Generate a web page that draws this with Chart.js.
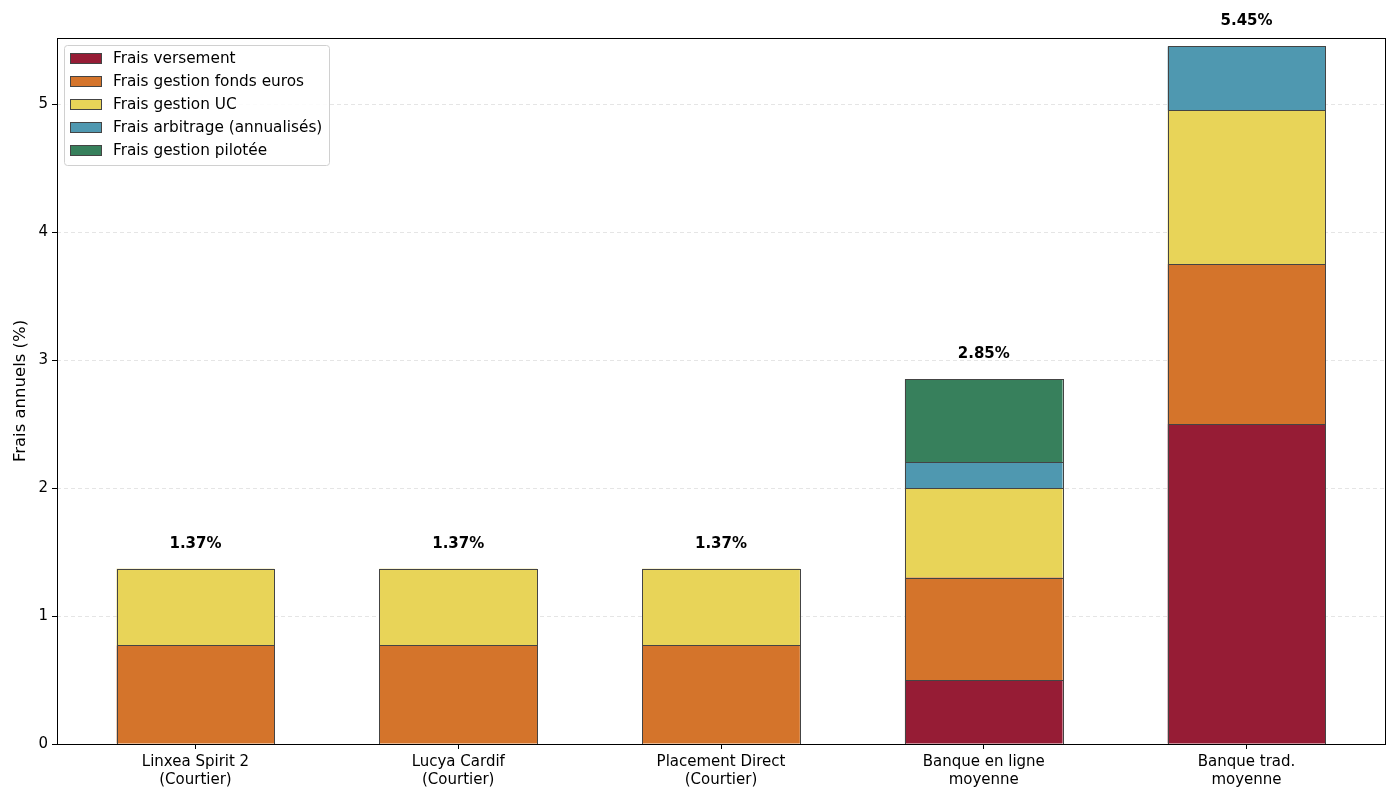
<!DOCTYPE html>
<html>
<head>
<meta charset="utf-8">
<script src="https://cdn.jsdelivr.net/npm/chart.js@4"></script>
<style>
  html, body { margin: 0; padding: 0; background: #fff; }
</style>
</head>
<body>
<canvas id="chart" width="1400" height="800"></canvas>
<script>
const categories = [
    ['Linxea Spirit 2', '(Courtier)'],
    ['Lucya Cardif', '(Courtier)'],
    ['Placement Direct', '(Courtier)'],
    ['Banque en ligne', 'moyenne'],
    ['Banque trad.', 'moyenne']
];
const seriesNames = ['Frais versement', 'Frais gestion fonds euros', 'Frais gestion UC',
                     'Frais arbitrage (annualisés)', 'Frais gestion pilotée'];
const fraisVersement = [0, 0, 0, 0.5, 2.5];
const fraisFondsEuros = [0.77, 0.77, 0.77, 0.8, 1.25];
const fraisUC = [0.6, 0.6, 0.6, 0.7, 1.2];
const fraisArbitrage = [0, 0, 0, 0.2, 0.5];
const fraisPilotee = [0, 0, 0, 0.65, 0];
const yTicks = [0, 1, 2, 3, 4, 5];

const colors = ['#961c35', '#d4742b', '#e8d458', '#4f98b0', '#37805c'];
const allSeries = [fraisVersement, fraisFondsEuros, fraisUC, fraisArbitrage, fraisPilotee];
const totals = categories.map((c, i) => allSeries.reduce((s, arr) => s + arr[i], 0));

const FONT = '"DejaVu Sans", sans-serif';

// crisp dark outlines on each bar segment, like matplotlib edgecolor
const outlines = {
    id: 'outlines',
    afterDatasetsDraw: chart => {
        const ctx = chart.ctx;
        ctx.save();
        ctx.strokeStyle = '#444';
        ctx.lineWidth = 1;
        chart.data.datasets.forEach((ds, k) => {
            chart.getDatasetMeta(k).data.forEach(bar => {
                const p = bar.getProps(['x', 'y', 'base', 'width'], true);
                const l = Math.round(p.x - p.width / 2) + 0.5;
                const r = Math.round(p.x + p.width / 2) + 0.5;
                const t = Math.round(Math.min(p.y, p.base)) + 0.5;
                const b = Math.round(Math.max(p.y, p.base)) + 0.5;
                ctx.strokeRect(l, t, r - l, b - t);
            });
        });
        ctx.restore();
    }
};

const frame = {
    id: 'frame',
    afterDraw: chart => {
        const ctx = chart.ctx;
        const a = chart.chartArea;
        const xs = chart.scales.x, ys = chart.scales.y;
        ctx.save();
        // plot box
        ctx.strokeStyle = '#000';
        ctx.lineWidth = 1;
        ctx.strokeRect(Math.round(a.left) + 0.5, Math.round(a.top) + 0.5,
                       Math.round(a.right - a.left), Math.round(a.bottom - a.top));
        // totals
        ctx.fillStyle = '#000';
        ctx.font = 'bold 15px ' + FONT;
        ctx.textAlign = 'center';
        ctx.textBaseline = 'middle';
        totals.forEach((t, i) => {
            ctx.fillText(t.toFixed(2) + '%', xs.getPixelForValue(i), ys.getPixelForValue(t) - 25);
        });
        // legend
        const lx = 64, ly = 45, lw = 265, lh = 120;
        ctx.fillStyle = 'rgba(255,255,255,0.85)';
        ctx.strokeStyle = '#d0d0d0';
        ctx.beginPath();
        ctx.roundRect(lx + 0.5, ly + 0.5, lw, lh, 3);
        ctx.fill();
        ctx.stroke();
        ctx.font = '15.3px ' + FONT;
        ctx.textAlign = 'left';
        seriesNames.forEach((name, i) => {
            const y = 58 + i * 23;
            ctx.fillStyle = colors[i];
            ctx.fillRect(70, y - 5, 31, 10);
            ctx.strokeStyle = '#444';
            ctx.strokeRect(70.5, y - 4.5, 31, 10);
            ctx.fillStyle = '#000';
            ctx.fillText(name, 113, y + 1);
        });
        ctx.restore();
    }
};

new Chart(document.getElementById('chart').getContext('2d'), {
    type: 'bar',
    plugins: [outlines, frame],
    data: {
        datasets: allSeries.map((arr, k) => ({
            label: seriesNames[k],
            data: arr.map((v, i) => ({ x: i, y: v })),
            backgroundColor: colors[k],
            borderWidth: 0,
            inflateAmount: 0,
            barPercentage: 0.6,
            categoryPercentage: 1.0
        }))
    },
    options: {
        responsive: false,
        animation: false,
        devicePixelRatio: 1,
        layout: { padding: { left: 11, top: 38, right: 15, bottom: 0 } },
        plugins: {
            legend: { display: false },
            tooltip: { enabled: false }
        },
        scales: {
            x: {
                type: 'linear',
                stacked: true,
                offset: false,
                min: -0.527,
                max: 4.527,
                afterBuildTicks: s => { s.ticks = categories.map((c, i) => ({ value: i })); },
                afterFit: s => { s.height = 56; },
                grid: { offset: false, drawOnChartArea: false, tickColor: '#000', tickLength: 5 },
                border: { display: false },
                ticks: {
                    color: '#000',
                    font: { family: FONT, size: 15 },
                    padding: 4,
                    maxRotation: 0,
                    callback: v => categories[v]
                }
            },
            y: {
                stacked: true,
                min: 0,
                max: 5.516,
                afterBuildTicks: s => { s.ticks = yTicks.map(v => ({ value: v })); },
                afterFit: s => { s.width = 46; },
                grid: { color: 'rgba(0,0,0,0.1)', tickColor: '#000', tickLength: 5 },
                border: { display: false, dash: [4, 3] },
                ticks: {
                    color: '#000',
                    font: { family: FONT, size: 15 },
                    padding: 4
                },
                title: {
                    display: true,
                    text: 'Frais annuels (%)',
                    color: '#000',
                    font: { family: FONT, size: 16.5 },
                    padding: { top: 0, bottom: 0 }
                }
            }
        }
    }
});
</script>
</body>
</html>
